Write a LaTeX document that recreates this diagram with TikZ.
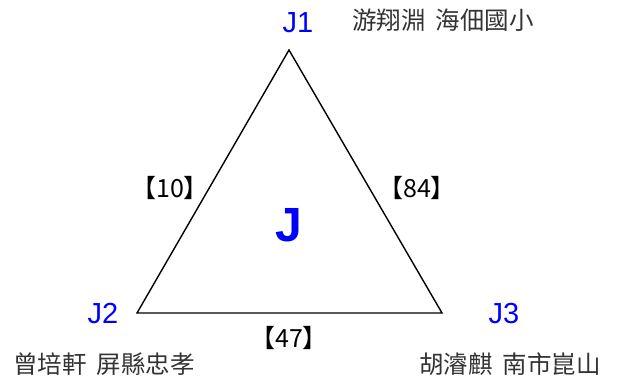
\documentclass[tikz,border=0pt]{standalone}
\usepackage{fontspec}
\usepackage{xcolor}
\setmainfont{Liberation Sans}
\newfontfamily\cjk{Noto Sans CJK TC}
\definecolor{JBlue}{HTML}{0000FF}
\definecolor{JGray}{HTML}{333333}

\begin{document}
\begin{tikzpicture}[x=1pt,y=-1pt]
\path[use as bounding box] (0,0) rectangle (621,383);
\tikzset{
  vname/.style={text=JBlue,font=\fontsize{29}{31}\selectfont,inner sep=0pt},
  person/.style={text=JGray,font=\cjk\fontsize{24.5}{26}\selectfont,inner sep=0pt},
  score/.style={font=\cjk\fontsize{25}{27}\selectfont,inner sep=0pt}
}
\coordinate (top) at (289,50);
\coordinate (left) at (137,313);
\coordinate (right) at (442,313);
\draw[line width=1.4pt,line join=miter] (top) -- (right) -- (left) -- cycle;
\node[vname] (j1) at (298,23) {J1};
\node[vname] (j2) at (103,314) {J2};
\node[vname] (j3) at (504,314) {J3};
\node[text=JBlue,font=\bfseries\fontsize{48}{50}\selectfont,inner sep=0pt] (jmid) at (289,225) {J};
\node[person,anchor=west] (p1) at (352,20) {游翔淵\hspace{10pt}海佃國小};
\node[person,anchor=west] (p2) at (13,364) {曾培軒\hspace{10pt}屏縣忠孝};
\node[person,anchor=west] (p3) at (419,364) {胡濬麒\hspace{10pt}南市崑山};
\node[score] (s12) at (170,188) {【10】};
\node[score] (s13) at (417,188) {【84】};
\node[score] (s23) at (289,338) {【47】};
\end{tikzpicture}
\end{document}
